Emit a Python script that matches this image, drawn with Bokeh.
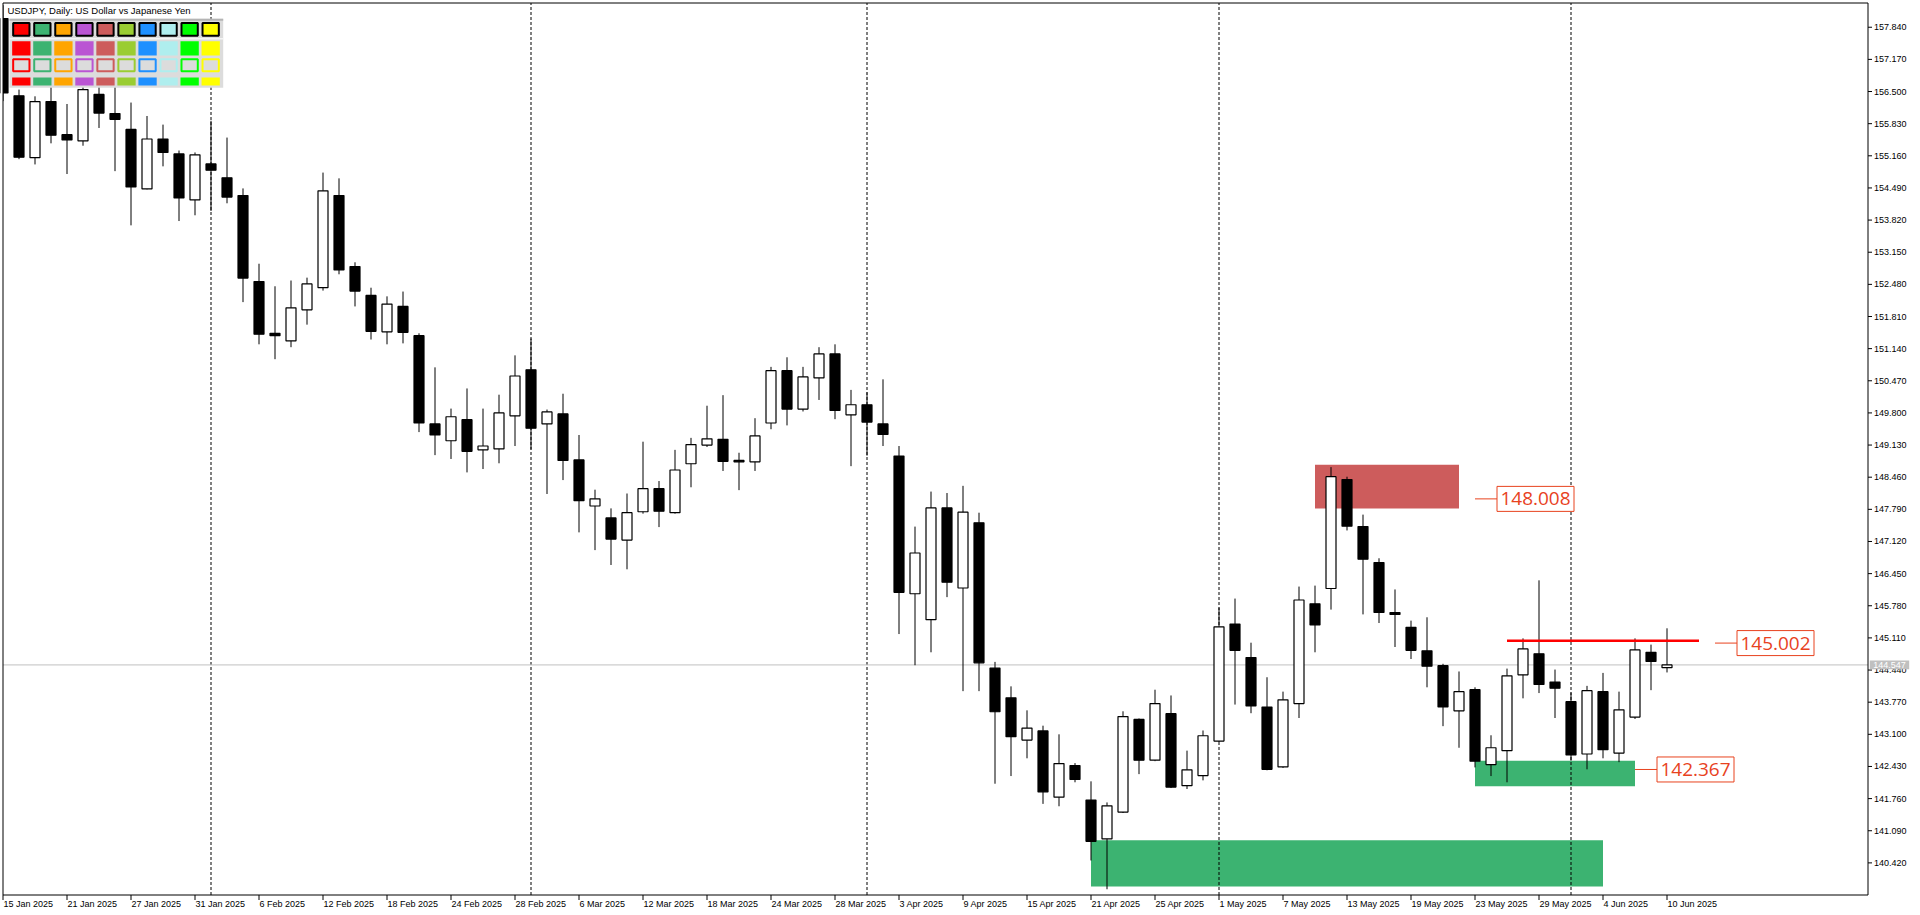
import pandas as pd
from bokeh.plotting import figure
from bokeh.models import Range1d, ColumnDataSource
from bokeh.core.properties import value
from bokeh.embed import file_html
from bokeh.resources import INLINE

# ---------------- data ----------------
symbol_title = "USDJPY, Daily:  US Dollar vs Japanese Yen"
dates = pd.bdate_range("2025-01-15", "2025-06-10")

opens = [158.02, 156.41, 155.12, 156.29, 155.60, 155.47, 156.44, 156.04, 155.71, 154.47,
         155.51, 155.20, 154.24, 154.99, 154.70, 154.33, 152.54, 151.46, 151.30, 151.95,
         152.41, 154.33, 152.85, 152.25, 151.49, 152.02, 151.41, 149.57, 149.22, 149.66,
         149.03, 149.05, 149.74, 150.70, 149.57, 149.78, 148.82, 147.86, 147.61, 147.15,
         147.74, 148.22, 147.72, 148.74, 149.13, 149.25, 148.81, 148.78, 149.59, 150.68,
         149.88, 150.53, 151.03, 149.76, 149.97, 149.57, 148.90, 146.03, 145.49, 147.82,
         146.15, 147.51, 144.48, 143.86, 142.98, 143.17, 141.79, 142.45, 141.73, 140.92,
         141.48, 143.41, 142.56, 143.53, 142.03, 142.24, 142.96, 145.40, 144.70, 143.67,
         142.42, 143.74, 145.82, 146.14, 148.41, 147.43, 146.68, 145.64, 145.33, 144.84,
         144.53, 143.59, 144.03, 142.47, 142.76, 144.34, 144.78, 144.19, 143.78, 142.69,
         143.99, 142.71, 143.46, 144.81, 144.49]
highs = [158.30, 156.54, 156.40, 156.60, 156.24, 156.65, 156.67, 156.60, 156.27, 155.99,
         155.81, 155.27, 155.23, 155.89, 155.54, 154.48, 152.91, 152.44, 152.56, 152.62,
         154.81, 154.69, 152.94, 152.41, 152.23, 152.33, 151.46, 150.75, 149.89, 150.31,
         149.89, 150.18, 151.00, 151.35, 149.87, 150.20, 149.34, 148.20, 147.81, 148.12,
         149.20, 148.38, 149.03, 149.28, 149.95, 150.17, 148.97, 149.69, 150.76, 150.96,
         150.76, 151.17, 151.23, 150.28, 150.23, 150.50, 149.11, 147.43, 148.16, 148.13,
         148.28, 147.72, 144.61, 144.10, 143.60, 143.28, 143.10, 142.50, 142.12, 141.68,
         143.58, 143.43, 144.03, 143.91, 142.76, 143.18, 145.74, 145.93, 145.01, 144.29,
         143.99, 146.18, 146.20, 148.67, 148.47, 147.68, 146.77, 146.12, 145.47, 145.54,
         144.57, 144.41, 144.08, 143.08, 144.47, 145.10, 146.31, 144.45, 143.97, 144.11,
         144.38, 143.99, 145.10, 144.97, 145.31]
lows = [156.30, 155.09, 154.98, 155.42, 154.78, 155.37, 155.74, 154.84, 153.71, 154.46,
        154.94, 153.80, 153.92, 154.01, 154.17, 152.11, 151.23, 150.92, 151.17, 151.64,
        152.35, 152.69, 152.02, 151.33, 151.23, 151.25, 149.40, 148.92, 148.84, 148.56,
        148.63, 148.75, 149.11, 149.04, 148.11, 148.40, 147.31, 146.94, 146.63, 146.54,
        147.70, 147.42, 147.70, 148.25, 149.09, 148.59, 148.19, 148.59, 149.46, 149.54,
        149.83, 150.07, 149.67, 148.69, 148.91, 149.11, 145.19, 144.54, 144.81, 145.96,
        144.00, 144.00, 142.07, 142.23, 142.60, 141.65, 141.60, 142.10, 140.47, 139.87,
        141.46, 142.27, 142.54, 141.98, 141.96, 142.14, 142.94, 143.72, 143.54, 142.35,
        142.40, 143.44, 144.81, 145.70, 147.35, 145.60, 145.42, 144.92, 144.67, 144.08,
        143.27, 142.82, 142.41, 142.23, 142.10, 143.85, 143.96, 143.44, 142.55, 142.37,
        142.60, 142.52, 143.42, 144.02, 144.39]
closes = [156.47, 155.13, 156.29, 155.59, 155.49, 156.54, 156.05, 155.92, 154.51, 155.51,
          155.23, 154.28, 155.18, 154.86, 154.30, 152.61, 151.44, 151.41, 151.99, 152.49,
          154.43, 152.78, 152.34, 151.50, 152.07, 151.48, 149.59, 149.34, 149.72, 149.00,
          149.11, 149.80, 150.57, 149.48, 149.82, 148.81, 147.97, 148.01, 147.17, 147.72,
          148.22, 147.75, 148.61, 149.14, 149.26, 148.79, 148.78, 149.32, 150.68, 149.88,
          150.55, 151.03, 149.85, 149.97, 149.61, 149.35, 146.06, 146.88, 147.82, 146.27,
          147.73, 144.59, 143.57, 143.05, 143.23, 141.90, 142.49, 142.16, 140.87, 141.61,
          143.47, 142.56, 143.74, 142.00, 142.36, 143.07, 145.34, 144.85, 143.69, 142.37,
          143.82, 145.90, 145.38, 148.47, 147.44, 146.75, 145.64, 145.60, 144.85, 144.52,
          143.67, 143.99, 142.54, 142.82, 144.32, 144.88, 144.14, 144.06, 142.67, 144.01,
          142.78, 143.61, 144.86, 144.62, 144.547]

time_tick_bars = [0, 4, 8, 12, 16, 20, 24, 28, 32, 36, 40, 44, 48, 52, 56, 60, 64, 68,
                  72, 76, 80, 84, 88, 92, 96, 100, 104]
time_tick_labels = ["15 Jan 2025", "21 Jan 2025", "27 Jan 2025", "31 Jan 2025", "6 Feb 2025",
                    "12 Feb 2025", "18 Feb 2025", "24 Feb 2025", "28 Feb 2025", "6 Mar 2025",
                    "12 Mar 2025", "18 Mar 2025", "24 Mar 2025", "28 Mar 2025", "3 Apr 2025",
                    "9 Apr 2025", "15 Apr 2025", "21 Apr 2025", "25 Apr 2025", "1 May 2025",
                    "7 May 2025", "13 May 2025", "19 May 2025", "23 May 2025", "29 May 2025",
                    "4 Jun 2025", "10 Jun 2025"]
price_ticks = [140.420, 141.090, 141.760, 142.430, 143.100, 143.770, 144.440, 145.110,
               145.780, 146.450, 147.120, 147.790, 148.460, 149.130, 149.800, 150.470,
               151.140, 151.810, 152.480, 153.150, 153.820, 154.490, 155.160, 155.830,
               156.500, 157.170, 157.840]
month_separator_bars = [13, 33, 54, 76, 98]

# rectangles: start bar, end bar, low price, high price, colour
zone_start = [68, 92, 82]
zone_end = [100, 102, 91]
zone_low = [139.93, 142.02, 147.81]
zone_high = [140.89, 142.55, 148.72]
zone_color = ["#3CB371", "#3CB371", "#CD5C5C"]

resist_start, resist_end, resist_price = 94, 106, 145.05
level_values = [148.008, 145.002, 142.367]
level_from_bar = [92, 107, 102]
bid_price = 144.547

palette_colors = ["#FF0000", "#3CB371", "#FFA500", "#BA55D3", "#CD5C5C",
                  "#9ACD32", "#1E90FF", "#AFEEEE", "#00FF00", "#FFFF00"]

# ---------------- layout helpers (pixel positions -> data space) ----------------
W, H = 1912, 912
BAR0_PX, BAR_PX = 2.5, 16.0
REF_PY, REF_PRICE, PX_PER_PRICE = 476.7, 148.46, 47.97
FL, FR, FT, FB = 2.5, 1867.5, 2.5, 894.5     # chart frame lines


def X(px):
    return (px - BAR0_PX) / BAR_PX


def Y(py):
    return REF_PRICE + (REF_PY - py) / PX_PER_PRICE


def dX(w):
    return w / BAR_PX


def dY(h):
    return h / PX_PER_PRICE


FONT = "Liberation Sans"
LVL = "#E8421E"

p = figure(width=W, height=H,
           x_range=Range1d(X(0), X(W)), y_range=Range1d(Y(H), Y(0)),
           output_backend="svg", toolbar_location=None,
           x_axis_location=None, y_axis_location=None,
           min_border_left=0, min_border_top=0, min_border_right=0, min_border_bottom=0)
p.grid.visible = False
p.outline_line_color = None
p.background_fill_color = "white"
p.border_fill_color = "white"

# rectangles (background objects)
p.quad(left=zone_start, right=zone_end, bottom=zone_low, top=zone_high,
       fill_color=zone_color, line_color=None)

# month separators
nsep = len(month_separator_bars)
p.segment(x0=month_separator_bars, x1=month_separator_bars,
          y0=[Y(FB)] * nsep, y1=[Y(FT)] * nsep,
          line_color="black", line_width=1, line_dash="3 2")

# bid line
p.segment(x0=[X(FL)], x1=[X(FR)], y0=[bid_price], y1=[bid_price],
          line_color="#C0C0C0", line_width=1)

# candles
idx = list(range(len(opens)))
src = ColumnDataSource(dict(
    x=idx, o=opens, h=highs, l=lows, c=closes,
    top=[max(a, b) for a, b in zip(opens, closes)],
    bot=[min(a, b) for a, b in zip(opens, closes)],
    fill=["black" if c < o else "white" for o, c in zip(opens, closes)],
))
p.segment(x0="x", x1="x", y0="l", y1="h", source=src, line_color="black", line_width=1)
p.vbar(x="x", top="top", bottom="bot", width=dX(10), source=src,
       fill_color="fill", line_color="black", line_width=1.2)

# resistance line
p.segment(x0=[resist_start], x1=[resist_end], y0=[resist_price], y1=[resist_price],
          line_color="#FF0000", line_width=2.5)

# level labels with leader lines
box_off, box_w, box_h = dX(22), dX(77), dY(25)
p.segment(x0=level_from_bar, x1=[b + box_off for b in level_from_bar],
          y0=level_values, y1=level_values, line_color=LVL, line_width=1)
p.quad(left=[b + box_off for b in level_from_bar],
       right=[b + box_off + box_w for b in level_from_bar],
       bottom=[v - box_h / 2 for v in level_values],
       top=[v + box_h / 2 for v in level_values],
       fill_color="white", line_color=LVL, line_width=1)
p.text(x=[b + box_off + box_w / 2 for b in level_from_bar], y=level_values,
       text=[f"{v:.3f}" for v in level_values],
       text_align="center", text_baseline="middle", text_color=LVL,
       text_font=value("Open Sans"), text_font_size="19px")

# white margins outside the chart frame (clip candles at the frame)
p.quad(left=[X(0), X(FR)], right=[X(FL), X(W)], bottom=[Y(H), Y(H)], top=[Y(0), Y(0)],
       fill_color="white", line_color=None)
p.quad(left=[X(0), X(0)], right=[X(W), X(W)], bottom=[Y(FT), Y(H)], top=[Y(0), Y(FB)],
       fill_color="white", line_color=None)

# frame lines
p.segment(x0=[X(FL), X(FL), X(FR), X(FL)], x1=[X(FL), X(FR), X(FR), X(FR)],
          y0=[Y(FT), Y(FT), Y(FT), Y(FB)], y1=[Y(FB), Y(FT), Y(FB), Y(FB)],
          line_color="black", line_width=1)

# price scale (right)
p.segment(x0=[X(FR)] * len(price_ticks), x1=[X(FR + 4)] * len(price_ticks),
          y0=price_ticks, y1=price_ticks, line_color="black", line_width=1)
p.text(x=[X(FR + 6)] * len(price_ticks), y=price_ticks,
       text=[f"{v:.3f}" for v in price_ticks], text_align="left", text_baseline="middle",
       text_color="black", text_font=value(FONT), text_font_size="9px")

# time scale (bottom)
p.segment(x0=time_tick_bars, x1=time_tick_bars,
          y0=[Y(FB)] * len(time_tick_bars), y1=[Y(FB + 5)] * len(time_tick_bars),
          line_color="black", line_width=1)
p.text(x=[b + dX(0.5) for b in time_tick_bars], y=[Y(903.5)] * len(time_tick_bars),
       text=time_tick_labels, text_align="left", text_baseline="middle",
       text_color="black", text_font=value(FONT), text_font_size="9px")

# current price tag on the price scale
p.quad(left=[X(1869.3)], right=[X(1908.7)], top=[bid_price + dY(4.3)],
       bottom=[bid_price - dY(4.3)], fill_color="#C0C0C0", line_color=None)
p.text(x=[X(1889)], y=[bid_price], text=[f"{bid_price:.3f}"], text_align="center",
       text_baseline="middle", text_color="white", text_font=value(FONT),
       text_font_size="9px")

# colour palette panel (top-left)
p.quad(left=[X(9)], right=[X(222.7)], top=[Y(18.3)], bottom=[Y(87.3)],
       fill_color="#DCDCDC", line_color=None)
p.quad(left=[X(9)], right=[X(222.7)], top=[Y(18.3)], bottom=[Y(20.3)],
       fill_color="#B4B4B4", line_color=None)
p.quad(left=[X(9)], right=[X(222.7)], top=[Y(37.6)], bottom=[Y(39.0)],
       fill_color="#F4F4F4", line_color=None)
col_px = [11.67 + 21.04 * k for k in range(len(palette_colors))]
ncol = len(col_px)
p.quad(left=[X(c + 1) for c in col_px], right=[X(c + 17.3) for c in col_px],
       top=[Y(22.5)] * ncol, bottom=[Y(35.2)] * ncol,
       fill_color=palette_colors, line_color="black", line_width=2)
p.quad(left=[X(c) for c in col_px], right=[X(c + 18.3) for c in col_px],
       top=[Y(40.7)] * ncol, bottom=[Y(55.0)] * ncol,
       fill_color=palette_colors, line_color=None)
p.quad(left=[X(c + 1) for c in col_px], right=[X(c + 17.3) for c in col_px],
       top=[Y(58.7)] * ncol, bottom=[Y(70.7)] * ncol,
       fill_color="#DCDCDC", line_color=palette_colors, line_width=2)
p.quad(left=[X(c) for c in col_px], right=[X(c + 18.3) for c in col_px],
       top=[Y(77.0)] * ncol, bottom=[Y(85.0)] * ncol,
       fill_color=palette_colors, line_color=None)

# chart title text
p.text(x=[X(7)], y=[Y(9.8)], text=[symbol_title], text_align="left",
       text_baseline="middle", text_color="black",
       text_font=value(FONT), text_font_size="9.5px")

open("out.html", "w").write(file_html(p, INLINE))
